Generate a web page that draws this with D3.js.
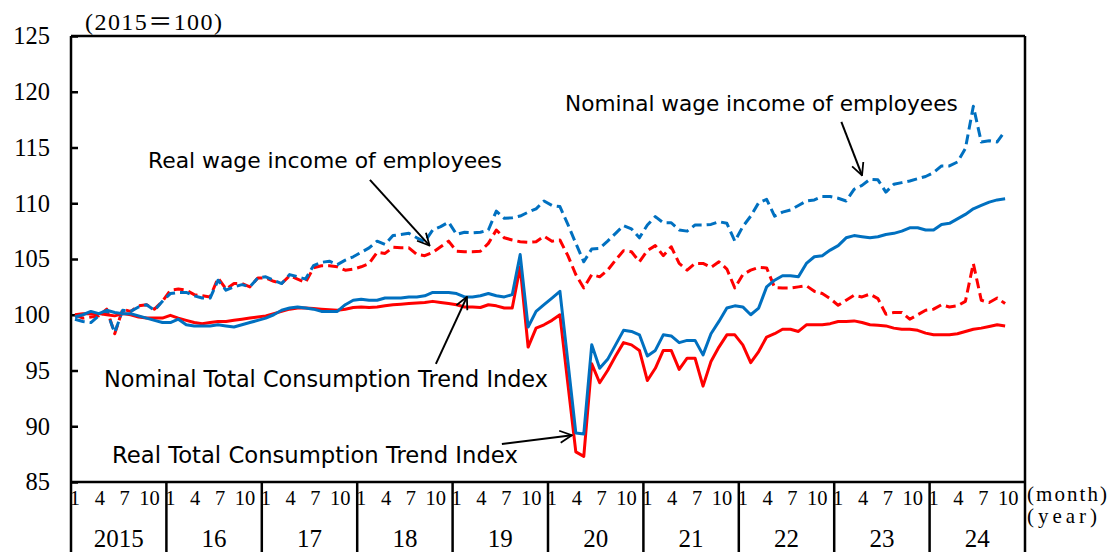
<!DOCTYPE html>
<html>
<head>
<meta charset="utf-8">
<script src="https://cdn.jsdelivr.net/npm/d3@7"></script>
<style>
    body { margin: 0; background: #fff; }
    svg { display: block; }
</style>
</head>
<body>
<svg id="chart"></svg>
<script>
// ----- Data (monthly, Jan 2015 - Oct 2024, 2015 = 100) -----
const years = ["2015", "16", "17", "18", "19", "20", "21", "22", "23", "24"];
const month_labels = ["1", "4", "7", "10"];
const month_label_pos = [0, 3, 6, 9];
const y_ticks = [85, 90, 95, 100, 105, 110, 115, 120, 125];

const nominal_consumption = [
    99.8, 100.0, 100.3, 100.1, 100.4, 100.2, 100.1, 100.1, 99.9, 99.7, 99.5, 99.3,
    99.3, 99.6, 99.1, 99.0, 99.0, 99.0, 99.1, 99.0, 98.9, 99.1, 99.3, 99.5,
    99.7, 100.0, 100.4, 100.6, 100.7, 100.6, 100.5, 100.3, 100.3, 100.3, 100.9, 101.3,
    101.4, 101.3, 101.3, 101.5, 101.5, 101.5, 101.6, 101.6, 101.7, 102.0, 102.0, 102.0,
    101.9, 101.6, 101.6, 101.7, 101.9, 101.7, 101.6, 101.8, 105.4, 98.9, 100.3, 100.9,
    101.5, 102.1, 95.8, 89.4, 89.3, 97.3, 95.2, 96.0, 97.3, 98.6, 98.5, 98.2,
    96.3, 96.8, 98.2, 98.1, 97.5, 97.7, 97.7, 96.4, 98.3, 99.4, 100.6, 100.8,
    100.7, 100.0, 100.6, 102.5, 103.1, 103.5, 103.5, 103.4, 104.6, 105.2, 105.3, 105.8,
    106.2, 106.9, 107.1, 107.0, 106.9, 107.0, 107.2, 107.3, 107.5, 107.8, 107.8, 107.6,
    107.6, 108.1, 108.2, 108.6, 109.0, 109.5, 109.8, 110.1, 110.3, 110.4
];

const real_consumption = [
    100.0, 100.1, 100.1, 100.1, 100.0, 99.9, 100.1, 100.0, 99.8, 99.7, 99.7, 99.7,
    99.95, 99.7, 99.5, 99.3, 99.2, 99.3, 99.4, 99.4, 99.5, 99.6, 99.7, 99.8,
    99.9, 100.1, 100.3, 100.5, 100.6, 100.6, 100.55, 100.5, 100.45, 100.4, 100.5, 100.65,
    100.7, 100.65, 100.7, 100.8, 100.9, 100.95, 101.0, 101.05, 101.1, 101.2, 101.1, 101.0,
    100.9, 100.7, 100.7, 100.65, 100.9, 100.8, 100.6, 100.6, 104.3, 97.1, 98.8, 99.1,
    99.5, 100.0, 93.8, 87.7, 87.3, 95.6, 93.9, 95.0, 96.3, 97.5, 97.3, 96.8,
    94.1, 95.2, 96.8, 96.8, 95.1, 96.1, 96.1, 93.6, 95.8, 97.1, 98.2, 98.2,
    97.3, 95.7, 96.7, 98.0, 98.3, 98.7, 98.7, 98.5, 99.1, 99.1, 99.1, 99.2,
    99.4, 99.4, 99.45, 99.3, 99.1, 99.05, 99.0, 98.8, 98.7, 98.7, 98.6, 98.35,
    98.2, 98.2, 98.2, 98.3, 98.5, 98.7, 98.8, 98.95, 99.1, 99.0
];

const nominal_wage = [
    99.6, 99.4, 99.3, 99.9, 100.3, 98.4, 100.4, 100.3, 100.7, 100.9, 100.4, 101.2,
    101.9, 102.0, 102.0, 101.7, 101.5, 101.5, 103.1, 102.2, 102.5, 102.7, 102.5, 103.3,
    103.4, 103.1, 102.8, 103.6, 103.4, 103.2, 104.4, 104.7, 104.8, 104.5, 104.9, 105.2,
    105.6, 106.0, 106.6, 106.3, 107.1, 107.2, 107.3, 106.9, 106.55, 107.6, 107.9, 108.3,
    107.2, 107.4, 107.35, 107.4, 107.6, 109.3, 108.65, 108.7, 108.85, 109.2, 109.5, 110.2,
    109.8, 109.7, 108.1, 106.4, 104.75, 105.9, 105.95, 106.6, 107.3, 108.0, 107.7, 106.9,
    108.05, 108.8, 108.25, 108.25, 107.6, 107.5, 108.05, 108.05, 108.1, 108.35, 108.2, 106.6,
    107.9, 108.85, 110.05, 110.35, 108.85, 109.2, 109.4, 109.8, 110.2, 110.3, 110.6, 110.6,
    110.45, 110.2, 111.25, 111.6, 112.15, 112.1, 111.0, 111.7, 111.85, 112.0, 112.2, 112.4,
    112.75, 113.35, 113.35, 113.7, 114.9, 118.7, 115.5, 115.6, 115.5, 116.5
];

const real_wage = [
    100.0, 99.7, 99.8, 99.9, 100.5, 98.3, 100.5, 100.3, 100.8, 100.9, 100.5, 101.2,
    102.2, 102.3, 102.2, 101.8, 101.7, 101.6, 103.3, 102.3, 102.8, 102.8, 102.5, 103.3,
    103.3, 103.0, 102.8, 103.5, 103.2, 102.9, 104.2, 104.4, 104.4, 104.3, 104.0, 104.1,
    104.3, 104.6, 105.6, 105.5, 106.05, 106.0, 106.0, 105.4, 105.3, 105.6, 106.1, 106.6,
    105.7, 105.65, 105.65, 105.7, 106.4, 107.6, 106.9, 106.7, 106.55, 106.5, 106.55, 107.05,
    106.6, 106.7, 105.3, 103.6, 102.4, 103.6, 103.4, 104.0, 104.9, 105.75, 105.65, 104.75,
    105.75, 106.2, 105.3, 106.1, 104.6, 104.0, 104.6, 104.6, 104.25, 104.75, 104.1, 102.4,
    103.6, 104.0, 104.25, 104.2, 102.45, 102.4, 102.4, 102.5, 102.6, 102.1, 101.9, 101.45,
    100.85, 101.3, 101.75, 101.6, 101.85, 101.45, 100.05, 100.2, 100.2, 99.6, 100.0, 100.4,
    100.5, 100.9, 100.7, 100.8, 101.2, 104.6, 101.3, 101.1, 101.5, 101.0
];

// ----- Layout -----
const width = 1109, height = 552;
const margins = { top: 36, right: 84, bottom: 70, left: 71 };
const plot_right = width - margins.right;      // 1025
const plot_bottom = height - margins.bottom;   // 482
const blue = "#0070C0", red = "#FF0000";
const serif = "'Liberation Serif', 'Noto Sans CJK JP', serif";
const sans = "'DejaVu Sans', sans-serif";

const svg = d3.select("#chart").attr("width", width).attr("height", height);

// Category axis: 10 years x 12 months
const x_scale = d3.scaleBand()
    .domain(d3.range(years.length * 12))
    .range([margins.left, plot_right])
    .paddingInner(0).paddingOuter(0);
const x_mid = function (i) { return x_scale(i) + x_scale.bandwidth() / 2; };

const y_scale = d3.scaleLinear()
    .domain([85, 125])
    .range([plot_bottom, margins.top]);

// Y axis with inward ticks
const y_axis = svg.append("g")
    .attr("transform", "translate(" + margins.left + ",0)")
    .call(d3.axisLeft(y_scale).tickValues(y_ticks).tickSizeInner(-7).tickSizeOuter(0).tickPadding(21));
y_axis.select(".domain").remove();
y_axis.selectAll("line").attr("stroke", "#000").attr("stroke-width", 2.5);
y_axis.selectAll("text")
    .attr("font-family", serif)
    .attr("font-size", 24.5)
    .attr("fill", "#000");

// Unit label
svg.append("text")
    .attr("x", 85).attr("y", 30)
    .attr("font-family", serif).attr("font-size", 24)
    .attr("textLength", 137).attr("lengthAdjust", "spacing")
    .text("(2015＝100)");

// Series lines
const line = d3.line()
    .x(function (d, i) { return x_mid(i); })
    .y(function (d) { return y_scale(d); });

const series = [
    { data: real_wage, color: red, dash: "10,5" },
    { data: nominal_wage, color: blue, dash: "10,5" },
    { data: real_consumption, color: red, dash: null },
    { data: nominal_consumption, color: blue, dash: null }
];

series.forEach(function (s) {
    svg.append("path")
        .datum(s.data)
        .attr("fill", "none")
        .attr("stroke", s.color)
        .attr("stroke-width", 3)
        .attr("stroke-linejoin", "round")
        .attr("stroke-dasharray", s.dash)
        .attr("d", line);
});

// Plot frame and year separators
const frame = svg.append("g").attr("stroke", "#000").attr("stroke-width", 2.5).attr("fill", "none");
frame.append("line").attr("x1", margins.left).attr("x2", plot_right).attr("y1", margins.top).attr("y2", margins.top);
frame.append("line").attr("x1", margins.left).attr("x2", plot_right).attr("y1", plot_bottom).attr("y2", plot_bottom);
d3.range(years.length + 1).forEach(function (k) {
    const xb = k < years.length ? x_scale(k * 12) : plot_right;
    const top = (k === 0 || k === years.length) ? margins.top : plot_bottom;
    frame.append("line").attr("x1", xb).attr("x2", xb).attr("y1", top).attr("y2", height);
});

// Month and year labels
years.forEach(function (yr, k) {
    month_labels.forEach(function (m, j) {
        svg.append("text")
            .attr("x", x_mid(k * 12 + month_label_pos[j]) + j)
            .attr("y", 505)
            .attr("text-anchor", "middle")
            .attr("font-family", serif).attr("font-size", 20.5)
            .text(m);
    });
    svg.append("text")
        .attr("x", (x_scale(k * 12) + (k + 1 < years.length ? x_scale((k + 1) * 12) : plot_right)) / 2)
        .attr("y", 547)
        .attr("text-anchor", "middle")
        .attr("font-family", serif).attr("font-size", 25)
        .text(yr);
});
svg.append("text").attr("x", 1027).attr("y", 501)
    .attr("font-family", serif).attr("font-size", 21)
    .attr("textLength", 80).attr("lengthAdjust", "spacing").text("(month)");
svg.append("text").attr("x", 1027).attr("y", 523)
    .attr("font-family", serif).attr("font-size", 21)
    .attr("textLength", 70).attr("lengthAdjust", "spacing").text("(year)");

// Annotations: text box and arrow (tail -> tip given as month index / index value)
const annotations = [
    { text: "Nominal wage income of employees", x: 565, y: 111, w: 393, tail: [96.4, 117.3], tip: [99.0, 112.5] },
    { text: "Real wage income of employees", x: 148, y: 168, w: 354, tail: [37.1, 112.1], tip: [44.6, 106.2] },
    { text: "Nominal Total Consumption Trend Index", x: 104, y: 387, w: 444, tail: [45.4, 95.6], tip: [49.3, 101.6] },
    { text: "Real Total Consumption Trend Index", x: 112, y: 463, w: 406, tail: [53.7, 88.4], tip: [62.5, 89.2] }
];

svg.append("defs").append("marker")
    .attr("id", "arrow")
    .attr("viewBox", "0 0 14 14")
    .attr("refX", 13).attr("refY", 7)
    .attr("markerWidth", 14).attr("markerHeight", 14)
    .attr("markerUnits", "userSpaceOnUse")
    .attr("orient", "auto")
    .append("path")
    .attr("d", "M1,1 L13,7 L1,13")
    .attr("fill", "none")
    .attr("stroke", "#000")
    .attr("stroke-width", 1.8);

const ax = function (p) { return x_scale(0) + x_scale.bandwidth() * (p[0] + 0.5); };
annotations.forEach(function (a) {
    const t = svg.append("text")
        .attr("x", a.x).attr("y", a.y)
        .attr("font-family", sans).attr("font-size", 22)
        .attr("fill", "#000")
        .text(a.text);
    // fit the label to its box width
    const len = t.node().getComputedTextLength();
    if (len > 0) t.attr("font-size", 22 * a.w / len);

    svg.append("line")
        .attr("x1", ax(a.tail)).attr("y1", y_scale(a.tail[1]))
        .attr("x2", ax(a.tip)).attr("y2", y_scale(a.tip[1]))
        .attr("stroke", "#000").attr("stroke-width", 2)
        .attr("marker-end", "url(#arrow)");
});
</script>
</body>
</html>
